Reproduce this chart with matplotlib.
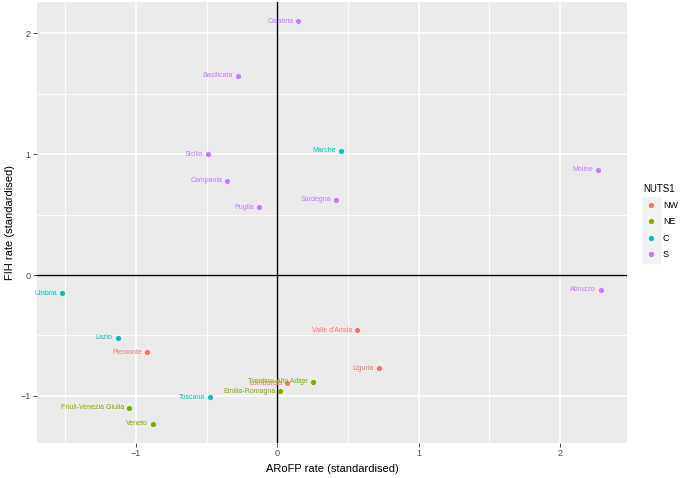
import matplotlib
matplotlib.use("Agg")
import matplotlib.pyplot as plt
from matplotlib.lines import Line2D
from matplotlib.patches import Rectangle

plt.rcParams['font.family'] = ['Liberation Sans', 'DejaVu Sans']

regions = ['Piemonte', "Valle d'Aosta", 'Liguria', 'Lombardia',
           'Trentino-Alto Adige', 'Veneto', 'Friuli-Venezia Giulia', 'Emilia-Romagna',
           'Toscana', 'Umbria', 'Marche', 'Lazio',
           'Abruzzo', 'Molise', 'Campania', 'Puglia', 'Basilicata', 'Calabria', 'Sicilia', 'Sardegna']
nuts1 = ['NW', 'NW', 'NW', 'NW',
         'NE', 'NE', 'NE', 'NE',
         'C', 'C', 'C', 'C',
         'S', 'S', 'S', 'S', 'S', 'S', 'S', 'S']
arofp = [-0.92, 0.567, 0.72, 0.07,
         0.25, -0.88, -1.05, 0.02,
         -0.475, -1.52, 0.45, -1.13,
         2.29, 2.27, -0.355, -0.13, -0.28, 0.15, -0.49, 0.415]
fih = [-0.64, -0.458, -0.77, -0.895,
       -0.885, -1.23, -1.10, -0.96,
       -1.01, -0.15, 1.03, -0.52,
       -0.12, 0.87, 0.78, 0.56, 1.65, 2.10, 1.00, 0.625]

groups = ['NW', 'NE', 'C', 'S']
colors = {'NW': '#F8766D', 'NE': '#7CAE00', 'C': '#00BFC4', 'S': '#C77CFF'}

fig = plt.figure(figsize=(6.85, 4.78), dpi=100)
ax = fig.add_axes([37/685, 35/478, 590/685, 441/478])
ax.set_facecolor('#EBEBEB')
for s in ax.spines.values():
    s.set_visible(False)

ax.set_xlim(-1.70, 2.475)
ax.set_ylim(-1.39, 2.26)
ax.set_xticks([-1, 0, 1, 2])
ax.set_yticks([-1, 0, 1, 2])
ax.set_xticks([-1.5, -0.5, 0.5, 1.5], minor=True)
ax.set_yticks([-0.5, 0.5, 1.5], minor=True)
ax.grid(which='major', color='white', linewidth=1.1)
ax.grid(which='minor', color='white', linewidth=0.6)
ax.set_axisbelow(True)
ax.tick_params(which='major', length=3, width=0.6, color='#333333',
               labelsize=6.5, labelcolor='#4D4D4D', pad=1.5)
ax.tick_params(which='minor', length=0)

ax.axhline(0, color='black', linewidth=1.0)
ax.axvline(0, color='black', linewidth=1.0)

for x, y, lab, g in zip(arofp, fih, regions, nuts1):
    ax.scatter(x, y, s=14, color=colors[g], zorder=3, linewidths=0)
    ax.annotate(lab, (x, y), xytext=(-3.5, 0), textcoords='offset points',
                ha='right', va='center', fontsize=5, color=colors[g])

ax.set_xlabel('ARoFP rate (standardised)', fontsize=8, labelpad=4)
ax.set_ylabel('FIH rate (standardised)', fontsize=8, labelpad=4)

# legend
fig.patches.append(Rectangle((643/685, 1 - 263/478), 17/685, 66/478,
                             transform=fig.transFigure, color='#F2F2F2', zorder=0))
handles = [Line2D([], [], marker='o', linestyle='', markersize=3.8,
                  markerfacecolor=colors[g], markeredgewidth=0) for g in groups]
leg = fig.legend(handles, groups, title='NUTS1', loc='upper left',
                 bbox_to_anchor=(643/685, 1 - 184/478), frameon=False,
                 fontsize=6.5, title_fontsize=7, labelspacing=0.8,
                 handlelength=1.77, handletextpad=0.44, borderpad=0,
                 borderaxespad=0)
leg._legend_box.align = 'left'

fig.savefig('out.png', dpi=100)
